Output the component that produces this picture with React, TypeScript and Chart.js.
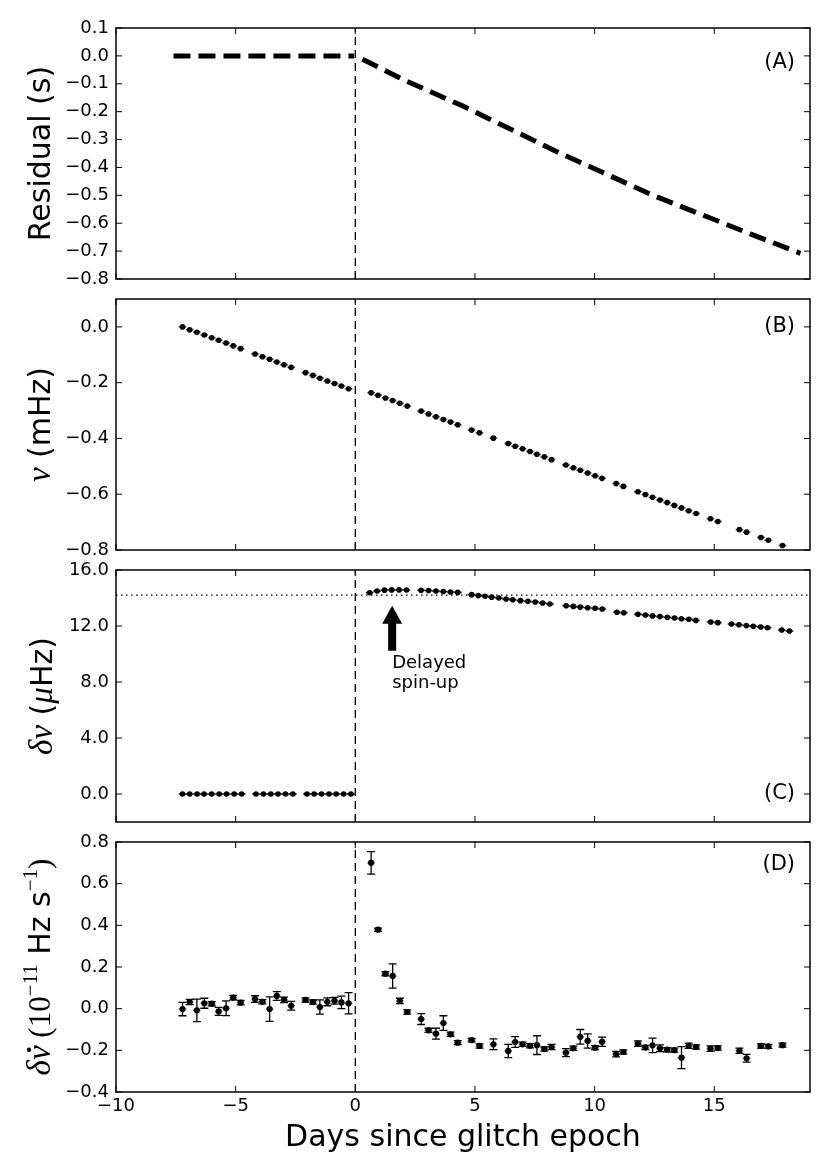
import { useEffect, useRef } from "react";
import { Chart, registerables } from "chart.js";
import type { ChartConfiguration, Plugin } from "chart.js";

Chart.register(...registerables);
Chart.defaults.color = "#000";
Chart.defaults.font.family = "DejaVu Sans";

// shared x axis: days since glitch epoch
const xMin = -10;
const xMax = 19;
const xTicks = [-10, -5, 0, 5, 10, 15];
const glitchEpoch = 0;
const epochHalfWidth = 0.16;

// (A) residual model track
const residualDaysPre = [-7.6, -0.05];
const residualPre = [0, 0];
const residualDaysPost = [0.3, 2, 4.5, 8.5, 12.5, 16.5, 18.6];
const residualPost = [-0.012, -0.085, -0.18, -0.347, -0.502, -0.638, -0.708];
const residualTicks = [-0.8, -0.7, -0.6, -0.5, -0.4, -0.3, -0.2, -0.1, 0, 0.1];

// epochs used by (B) and (D)
const epochs = [
  -7.22, -6.92, -6.62, -6.31, -6.0, -5.71, -5.4, -5.1, -4.79,
  -4.19, -3.88, -3.58, -3.28, -2.98, -2.68,
  -2.08, -1.77, -1.48, -1.17, -0.87, -0.58, -0.28,
  0.66, 0.95, 1.26, 1.56, 1.86, 2.17, 2.75, 3.06, 3.37, 3.68, 3.98, 4.28,
  4.86, 5.19, 5.77, 6.39, 6.68, 6.99, 7.3, 7.59, 7.9, 8.2,
  8.8, 9.11, 9.4, 9.71, 10.02, 10.31, 10.9, 11.2,
  11.81, 12.12, 12.42, 12.73, 13.03, 13.33, 13.63, 13.93, 14.24,
  14.84, 15.15, 16.05, 16.35, 16.95, 17.26, 17.85,
];

// (B) frequency, mHz
const nuValues = [
  0.0, -0.01, -0.019, -0.029, -0.039, -0.048, -0.058, -0.068, -0.078,
  -0.097, -0.107, -0.116, -0.126, -0.136, -0.145,
  -0.164, -0.174, -0.184, -0.194, -0.203, -0.212, -0.222,
  -0.236, -0.245, -0.255, -0.264, -0.274, -0.284, -0.302, -0.312, -0.322, -0.332, -0.341, -0.351,
  -0.37, -0.38, -0.399, -0.418, -0.428, -0.437, -0.447, -0.457, -0.466, -0.476,
  -0.495, -0.505, -0.514, -0.524, -0.534, -0.543, -0.562, -0.572,
  -0.591, -0.601, -0.611, -0.621, -0.63, -0.64, -0.649, -0.659, -0.669,
  -0.688, -0.698, -0.727, -0.736, -0.755, -0.765, -0.784,
];
const nuTicks = [-0.8, -0.6, -0.4, -0.2, 0];

// (C) frequency step, microHz
const dnuEpochs = [
  -7.22, -6.92, -6.61, -6.32, -6.0, -5.69, -5.38, -5.06, -4.75,
  -4.15, -3.84, -3.53, -3.23, -2.92, -2.61,
  -2.02, -1.72, -1.41, -1.1, -0.8, -0.49, -0.18,
  0.6, 0.91, 1.22, 1.52, 1.83, 2.14, 2.75, 3.06, 3.37, 3.68, 3.98, 4.28,
  4.86, 5.14, 5.42, 5.7, 6.0, 6.3, 6.58, 6.9, 7.21, 7.52, 7.83, 8.13,
  8.81, 9.11, 9.4, 9.71, 10.02, 10.32, 10.93, 11.22,
  11.81, 12.12, 12.42, 12.73, 13.04, 13.34, 13.63, 13.94, 14.23,
  14.85, 15.15, 15.72, 16.03, 16.34, 16.63, 16.94, 17.23, 17.82, 18.14,
];
const dnuValues = [
  0, 0, 0, 0, 0, 0, 0, 0, 0,
  0, 0, 0, 0, 0, 0,
  0, 0, 0, 0, 0, 0, 0,
  14.38, 14.5, 14.56, 14.58, 14.58, 14.57, 14.55, 14.53, 14.5, 14.46, 14.43, 14.4,
  14.24, 14.18, 14.13, 14.06, 14.0, 13.93, 13.87, 13.81, 13.76, 13.71, 13.64, 13.57,
  13.45, 13.4, 13.35, 13.3, 13.26, 13.21, 12.98, 12.95,
  12.84, 12.79, 12.72, 12.67, 12.62, 12.57, 12.52, 12.48, 12.4,
  12.29, 12.24, 12.14, 12.09, 12.03, 11.98, 11.93, 11.88, 11.71, 11.64,
];
const dnuTicks = [0, 4, 8, 12, 16];
const dnuReference = 14.2;
const spinUpDay = 1.54;
const spinUpArrow = [10.24, 13.45];

// (D) spin-down step, 1e-11 Hz/s
const nudotValues = [
  -0.002, 0.032, -0.008, 0.026, 0.024, -0.013, 0.002, 0.053, 0.029,
  0.046, 0.033, -0.002, 0.061, 0.042, 0.014,
  0.042, 0.032, 0.008, 0.033, 0.038, 0.03, 0.026,
  0.7, 0.379, 0.168, 0.157, 0.037, -0.016, -0.05, -0.104, -0.12, -0.069, -0.123, -0.163,
  -0.151, -0.179, -0.171, -0.203, -0.16, -0.171, -0.178, -0.175, -0.194, -0.184,
  -0.211, -0.19, -0.135, -0.155, -0.187, -0.159, -0.218, -0.208,
  -0.168, -0.186, -0.176, -0.19, -0.197, -0.199, -0.235, -0.178, -0.184,
  -0.192, -0.189, -0.202, -0.238, -0.179, -0.181, -0.175,
];
const nudotErrors = [
  0.032, 0.013, 0.054, 0.024, 0.01, 0.019, 0.035, 0.011, 0.011,
  0.016, 0.01, 0.059, 0.021, 0.013, 0.021,
  0.01, 0.01, 0.034, 0.019, 0.016, 0.03, 0.051,
  0.054, 0.008, 0.01, 0.058, 0.013, 0.01, 0.026, 0.01, 0.026, 0.035, 0.01, 0.01,
  0.008, 0.01, 0.026, 0.032, 0.026, 0.01, 0.01, 0.045, 0.01, 0.013,
  0.019, 0.01, 0.035, 0.034, 0.01, 0.022, 0.013, 0.01,
  0.013, 0.01, 0.035, 0.016, 0.01, 0.01, 0.053, 0.013, 0.01,
  0.013, 0.01, 0.013, 0.019, 0.01, 0.01, 0.01,
];
const nudotTicks = [-0.4, -0.2, 0, 0.2, 0.4, 0.6, 0.8];

const fmtTick = (v: number, digits: number) =>
  (v < -1e-9 ? "\u2212" : "") + Math.abs(v).toFixed(digits);

const pts = (xs: number[], ys: number[]) => xs.map((x, i) => ({ x, y: ys[i] }));

type Part = { text: string; font: string; raise?: number; dot?: boolean };
const SANS = (px: number) => `${px}px "DejaVu Sans"`;
const MATH = (px: number) => `italic ${px}px "Liberation Serif"`;
const ROMAN = (px: number) => `${px}px "Liberation Serif"`;

const framePlugin = (yTicks: number[]): Plugin => ({
  id: "frame",
  afterDraw(chart) {
    const { ctx, chartArea: a, scales } = chart;
    const x = scales.x;
    const y = scales.y;
    ctx.save();
    ctx.strokeStyle = "#000";
    ctx.lineWidth = 1;
    ctx.beginPath();
    for (const v of xTicks) {
      const px = x.getPixelForValue(v);
      ctx.moveTo(px, a.bottom);
      ctx.lineTo(px, a.bottom - 6);
      ctx.moveTo(px, a.top);
      ctx.lineTo(px, a.top + 6);
    }
    for (const v of yTicks) {
      const py = y.getPixelForValue(v);
      ctx.moveTo(a.left, py);
      ctx.lineTo(a.left + 6, py);
      ctx.moveTo(a.right, py);
      ctx.lineTo(a.right - 6, py);
    }
    ctx.stroke();
    ctx.lineWidth = 1.5;
    ctx.strokeRect(a.left, a.top, a.right - a.left, a.bottom - a.top);
    ctx.restore();
  },
});

const errorBarPlugin: Plugin = {
  id: "errorBars",
  beforeDatasetsDraw(chart) {
    const { ctx, chartArea: a, scales } = chart;
    const x = scales.x;
    const y = scales.y;
    ctx.save();
    ctx.beginPath();
    ctx.rect(a.left, a.top, a.right - a.left, a.bottom - a.top);
    ctx.clip();
    chart.data.datasets.forEach((ds: any) => {
      if (!ds.xHalf && !ds.yErr) return;
      (ds.data as { x: number; y: number }[]).forEach((p, j) => {
        const px = x.getPixelForValue(p.x);
        const py = y.getPixelForValue(p.y);
        if (ds.xHalf) {
          ctx.strokeStyle = ds.xErrColor;
          ctx.lineWidth = 1.6;
          ctx.beginPath();
          ctx.moveTo(x.getPixelForValue(p.x - ds.xHalf), py);
          ctx.lineTo(x.getPixelForValue(p.x + ds.xHalf), py);
          ctx.stroke();
        }
        if (ds.yErr) {
          const lo = y.getPixelForValue(p.y - ds.yErr[j]);
          const hi = y.getPixelForValue(p.y + ds.yErr[j]);
          ctx.strokeStyle = "#000";
          ctx.lineWidth = 1.3;
          ctx.beginPath();
          ctx.moveTo(px, lo);
          ctx.lineTo(px, hi);
          ctx.moveTo(px - 4, lo);
          ctx.lineTo(px + 4, lo);
          ctx.moveTo(px - 4, hi);
          ctx.lineTo(px + 4, hi);
          ctx.stroke();
        }
      });
    });
    ctx.restore();
  },
};

const yTitlePlugin = (parts: Part[], baselineX: number): Plugin => ({
  id: "yTitle",
  afterDraw(chart) {
    const { ctx, chartArea } = chart;
    const cy = (chartArea.top + chartArea.bottom) / 2;
    ctx.save();
    ctx.translate(baselineX, cy);
    ctx.rotate(-Math.PI / 2);
    ctx.fillStyle = "#000";
    ctx.textAlign = "left";
    ctx.textBaseline = "alphabetic";
    const widths = parts.map((p) => {
      ctx.font = p.font;
      return ctx.measureText(p.text).width;
    });
    let cx = -widths.reduce((s, w) => s + w, 0) / 2;
    parts.forEach((p, i) => {
      ctx.font = p.font;
      ctx.fillText(p.text, cx, -(p.raise || 0));
      if (p.dot) {
        ctx.beginPath();
        ctx.arc(cx + widths[i] / 2 + 3, -21, 2.2, 0, Math.PI * 2);
        ctx.fill();
      }
      cx += widths[i];
    });
    ctx.restore();
  },
});

const panelLabelPlugin = (text: string, yValue: number): Plugin => ({
  id: "panelLabel",
  afterDraw(chart) {
    const { ctx, chartArea, scales } = chart;
    ctx.save();
    ctx.fillStyle = "#000";
    ctx.font = SANS(21);
    ctx.textAlign = "right";
    ctx.textBaseline = "middle";
    ctx.fillText(text, chartArea.right - 15, scales.y.getPixelForValue(yValue));
    ctx.restore();
  },
});

const spinUpPlugin: Plugin = {
  id: "spinUp",
  afterDatasetsDraw(chart) {
    const { ctx, scales } = chart;
    const cx = scales.x.getPixelForValue(spinUpDay);
    const baseY = scales.y.getPixelForValue(spinUpArrow[0]);
    const tipY = scales.y.getPixelForValue(spinUpArrow[1]);
    ctx.save();
    ctx.fillStyle = "#000";
    ctx.beginPath();
    ctx.moveTo(cx, tipY);
    ctx.lineTo(cx + 10, tipY + 18);
    ctx.lineTo(cx + 4, tipY + 18);
    ctx.lineTo(cx + 4, baseY);
    ctx.lineTo(cx - 4, baseY);
    ctx.lineTo(cx - 4, tipY + 18);
    ctx.lineTo(cx - 10, tipY + 18);
    ctx.closePath();
    ctx.fill();
    ctx.font = SANS(18);
    ctx.textAlign = "left";
    ctx.textBaseline = "alphabetic";
    ctx.fillText("Delayed", cx, baseY + 17);
    ctx.fillText("spin-up", cx, baseY + 37);
    ctx.restore();
  },
};

const vline = (yMin: number, yMax: number) => ({
  data: pts([glitchEpoch, glitchEpoch], [yMin, yMax]),
  showLine: true,
  borderColor: "#000",
  borderWidth: 1.3,
  borderDash: [8, 5],
  pointRadius: 0,
});

const dots = (xs: number[], ys: number[], radius: number, extra: object) => ({
  data: pts(xs, ys),
  pointRadius: radius,
  pointBackgroundColor: "#000",
  pointBorderWidth: 0,
  ...extra,
});

const baseOptions = (yMin: number, yMax: number, yTicks: number[], showX: boolean): any => ({
  responsive: false,
  animation: false,
  layout: { padding: { top: 20, right: 20, bottom: showX ? 0 : 20, left: 0 } },
  plugins: { legend: { display: false }, tooltip: { enabled: false } },
  scales: {
    x: {
      type: "linear",
      min: xMin,
      max: xMax,
      display: showX,
      grid: { display: false, drawTicks: false },
      border: { display: false },
      afterBuildTicks: (s: any) => {
        s.ticks = xTicks.map((value) => ({ value }));
      },
      ticks: {
        callback: (v: any) => fmtTick(Number(v), 0),
        font: { size: 18 },
        padding: 4,
        maxRotation: 0,
        autoSkip: false,
      },
      title: {
        display: showX,
        text: "Days since glitch epoch",
        font: { size: 30 },
        padding: { top: 0, bottom: 17 },
      },
      afterFit: (s: any) => {
        if (showX) s.height = 81;
      },
    },
    y: {
      type: "linear",
      min: yMin,
      max: yMax,
      grid: { display: false, drawTicks: false },
      border: { display: false },
      afterBuildTicks: (s: any) => {
        s.ticks = yTicks.map((value) => ({ value }));
      },
      ticks: {
        callback: (v: any) => fmtTick(Number(v), 1),
        font: { size: 18 },
        padding: 7,
      },
      afterFit: (s: any) => {
        s.width = 116;
      },
    },
  },
});

const residualLine = (xs: number[], ys: number[]) => ({
  data: pts(xs, ys),
  showLine: true,
  borderColor: "#000",
  borderWidth: 5,
  borderDash: [17, 8],
  pointRadius: 0,
});

const configA = (): ChartConfiguration => ({
  type: "scatter",
  data: {
    datasets: [
      vline(-0.8, 0.1),
      residualLine(residualDaysPre, residualPre),
      residualLine(residualDaysPost, residualPost),
    ] as any,
  },
  options: baseOptions(-0.8, 0.1, residualTicks, false),
  plugins: [
    framePlugin(residualTicks),
    yTitlePlugin([{ text: "Residual (s)", font: SANS(30) }], 50),
    panelLabelPlugin("(A)", -0.025),
  ],
});

const configB = (): ChartConfiguration => ({
  type: "scatter",
  data: {
    datasets: [
      vline(-0.8, 0.1),
      dots(epochs, nuValues, 2.8, { xHalf: epochHalfWidth, xErrColor: "#555" }),
    ] as any,
  },
  options: baseOptions(-0.8, 0.1, nuTicks, false),
  plugins: [
    errorBarPlugin,
    framePlugin(nuTicks),
    yTitlePlugin(
      [
        { text: "\u03bd", font: MATH(33) },
        { text: " (mHz)", font: SANS(30) },
      ],
      50
    ),
    panelLabelPlugin("(B)", 0),
  ],
});

const configC = (): ChartConfiguration => ({
  type: "scatter",
  data: {
    datasets: [
      vline(-2, 16),
      {
        data: pts([xMin, xMax], [dnuReference, dnuReference]),
        showLine: true,
        borderColor: "#000",
        borderWidth: 1.3,
        borderDash: [1.5, 3.5],
        pointRadius: 0,
      },
      dots(dnuEpochs, dnuValues, 2.8, { xHalf: epochHalfWidth, xErrColor: "#222" }),
    ] as any,
  },
  options: baseOptions(-2, 16, dnuTicks, false),
  plugins: [
    errorBarPlugin,
    framePlugin(dnuTicks),
    spinUpPlugin,
    yTitlePlugin(
      [
        { text: "\u03b4\u03bd", font: MATH(33) },
        { text: " (", font: SANS(30) },
        { text: "\u03bc", font: MATH(33) },
        { text: "Hz)", font: SANS(30) },
      ],
      52
    ),
    panelLabelPlugin("(C)", 0),
  ],
});

const configD = (): ChartConfiguration => ({
  type: "scatter",
  data: {
    datasets: [
      vline(-0.4, 0.8),
      dots(epochs, nudotValues, 3.1, {
        xHalf: epochHalfWidth,
        xErrColor: "#888",
        yErr: nudotErrors,
      }),
    ] as any,
  },
  options: baseOptions(-0.4, 0.8, nudotTicks, true),
  plugins: [
    errorBarPlugin,
    framePlugin(nudotTicks),
    yTitlePlugin(
      [
        { text: "\u03b4", font: MATH(33) },
        { text: "\u03bd", font: MATH(33), dot: true },
        { text: " (10", font: ROMAN(31) },
        { text: "\u221211", font: ROMAN(21), raise: 13 },
        { text: " Hz s", font: SANS(30) },
        { text: "\u22121", font: ROMAN(21), raise: 13 },
        { text: ")", font: ROMAN(31) },
      ],
      50
    ),
    panelLabelPlugin("(D)", 0.69),
  ],
});

function Panel({ top, height, build }: { top: number; height: number; build: () => ChartConfiguration }) {
  const canvasRef = useRef<HTMLCanvasElement>(null);

  useEffect(() => {
    if (!canvasRef.current) return;
    const chart = new Chart(canvasRef.current, build());
    return () => {
      chart.destroy();
    };
  }, [build]);

  return (
    <canvas
      ref={canvasRef}
      width={830}
      height={height}
      style={{ position: "absolute", left: 0, top, width: 830, height }}
    />
  );
}

export default function App() {
  return (
    <div style={{ position: "absolute", left: 0, top: 0, width: 830, height: 1173, background: "#fff" }}>
      <Panel top={8} height={291} build={configA} />
      <Panel top={279} height={291} build={configB} />
      <Panel top={550} height={292} build={configC} />
      <Panel top={822} height={351} build={configD} />
    </div>
  );
}
